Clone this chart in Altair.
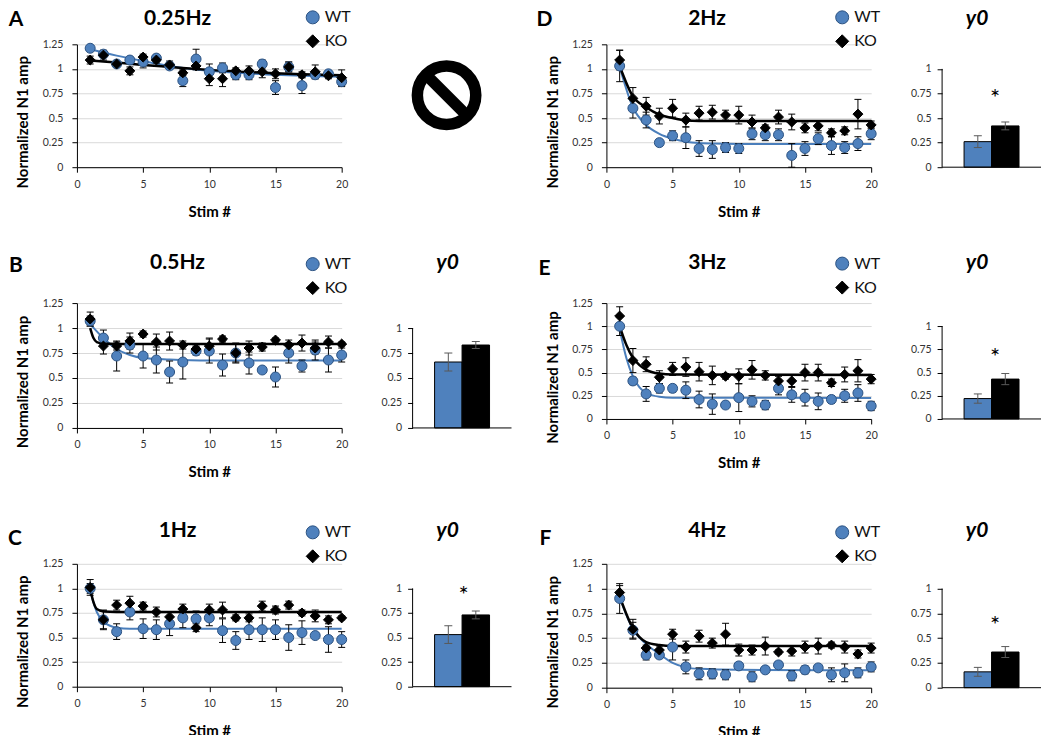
import altair as alt
import pandas as pd

STIM = list(range(1, 21))
GROUPS = ["WT", "KO"]

# ---- Panel A: 0.25Hz ----
A_WT = [1.21, 1.15, 1.05, 1.09, 1.07, 1.11, 1.03, 0.88, 1.10, 0.97, 1.01, 0.94, 0.94, 1.05, 0.81, 1.02, 0.83, 0.94, 0.95, 0.87]
A_WT_ERR = [0.02, 0.03, 0.02, 0.03, 0.06, 0.03, 0.03, 0.06, 0.10, 0.08, 0.05, 0.05, 0.05, 0.04, 0.07, 0.05, 0.08, 0.04, 0.03, 0.05]
A_KO = [1.09, 1.14, 1.05, 0.98, 1.12, 1.09, 1.04, 0.96, 1.03, 0.90, 0.90, 0.98, 0.98, 0.97, 0.95, 1.02, 0.94, 0.97, 0.93, 0.91]
A_KO_ERR = [0.04, 0.05, 0.03, 0.04, 0.03, 0.03, 0.04, 0.03, 0.04, 0.07, 0.08, 0.03, 0.05, 0.06, 0.05, 0.05, 0.03, 0.07, 0.03, 0.08]
A_FIT_X = [1, 3, 5, 7, 10, 15, 20]
A_FIT_WT = [1.20, 1.135, 1.08, 1.03, 0.98, 0.94, 0.92]
A_FIT_KO = [1.085, 1.065, 1.04, 1.02, 0.99, 0.955, 0.935]

# ---- Panel B: 0.5Hz ----
B_WT = [1.07, 0.90, 0.72, 0.83, 0.72, 0.68, 0.56, 0.66, 0.77, 0.77, 0.63, 0.75, 0.65, 0.58, 0.51, 0.75, 0.62, 0.78, 0.68, 0.73]
B_WT_ERR = [0.05, 0.08, 0.15, 0.08, 0.12, 0.13, 0.11, 0.17, 0.04, 0.12, 0.11, 0.10, 0.11, 0.03, 0.10, 0.10, 0.06, 0.10, 0.12, 0.07]
B_KO = [1.09, 0.82, 0.82, 0.87, 0.94, 0.86, 0.87, 0.83, 0.79, 0.82, 0.89, 0.75, 0.80, 0.81, 0.88, 0.83, 0.85, 0.80, 0.86, 0.84]
B_KO_ERR = [0.07, 0.08, 0.04, 0.08, 0.03, 0.08, 0.09, 0.04, 0.03, 0.08, 0.03, 0.09, 0.07, 0.04, 0.02, 0.05, 0.08, 0.06, 0.06, 0.02]
B_FIT_WT_X = [1, 2, 3, 4, 5, 7, 10, 20]
B_FIT_WT = [1.04, 0.90, 0.79, 0.73, 0.70, 0.685, 0.675, 0.675]
B_FIT_KO_X = [1, 1.25, 1.5, 2, 3, 20]
B_FIT_KO = [1.00, 0.90, 0.86, 0.845, 0.84, 0.84]

# ---- Panel C: 1Hz ----
C_WT = [1.00, 0.68, 0.56, 0.76, 0.59, 0.58, 0.64, 0.70, 0.69, 0.70, 0.57, 0.47, 0.58, 0.58, 0.58, 0.50, 0.55, 0.52, 0.48, 0.48]
C_WT_ERR = [0.05, 0.09, 0.08, 0.08, 0.10, 0.10, 0.12, 0.10, 0.08, 0.08, 0.12, 0.09, 0.10, 0.12, 0.10, 0.13, 0.12, 0.02, 0.13, 0.08]
C_KO = [1.01, 0.68, 0.83, 0.85, 0.82, 0.76, 0.71, 0.79, 0.60, 0.78, 0.78, 0.70, 0.70, 0.82, 0.78, 0.83, 0.75, 0.72, 0.68, 0.70]
C_KO_ERR = [0.08, 0.10, 0.05, 0.07, 0.04, 0.05, 0.05, 0.05, 0.04, 0.06, 0.08, 0.03, 0.04, 0.05, 0.04, 0.04, 0.03, 0.06, 0.04, 0.02]
C_FIT_WT_X = [1, 1.5, 2, 2.5, 3, 4, 20]
C_FIT_WT = [0.97, 0.76, 0.66, 0.62, 0.60, 0.59, 0.59]
C_FIT_KO_X = [1, 1.25, 1.5, 2, 3, 20]
C_FIT_KO = [1.00, 0.86, 0.79, 0.765, 0.76, 0.76]

# ---- Panel D: 2Hz ----
D_WT = [1.03, 0.60, 0.48, 0.25, 0.32, 0.30, 0.19, 0.18, 0.20, 0.19, 0.34, 0.33, 0.33, 0.12, 0.19, 0.29, 0.22, 0.20, 0.24, 0.34]
D_WT_ERR = [0.16, 0.10, 0.08, 0.03, 0.05, 0.11, 0.08, 0.09, 0.05, 0.05, 0.06, 0.06, 0.06, 0.12, 0.07, 0.06, 0.09, 0.06, 0.07, 0.06]
D_KO = [1.09, 0.70, 0.62, 0.52, 0.60, 0.48, 0.55, 0.56, 0.53, 0.53, 0.46, 0.40, 0.51, 0.46, 0.40, 0.42, 0.35, 0.37, 0.54, 0.43]
D_KO_ERR = [0.10, 0.11, 0.09, 0.08, 0.09, 0.07, 0.07, 0.07, 0.05, 0.09, 0.07, 0.03, 0.07, 0.08, 0.05, 0.05, 0.04, 0.04, 0.15, 0.04]
D_FIT_X = [1, 2, 3, 4, 5, 6, 7, 8, 10, 20]
D_FIT_WT = [1.02, 0.61, 0.43, 0.34, 0.29, 0.26, 0.245, 0.24, 0.237, 0.235]
D_FIT_KO = [1.03, 0.72, 0.61, 0.535, 0.50, 0.475, 0.47, 0.47, 0.47, 0.47]

# ---- Panel E: 3Hz ----
E_WT = [1.00, 0.41, 0.27, 0.33, 0.33, 0.31, 0.21, 0.16, 0.15, 0.23, 0.19, 0.15, 0.33, 0.26, 0.23, 0.19, 0.21, 0.25, 0.28, 0.14]
E_WT_ERR = [0.10, 0.04, 0.08, 0.05, 0.04, 0.09, 0.09, 0.11, 0.03, 0.15, 0.06, 0.05, 0.07, 0.08, 0.09, 0.09, 0.04, 0.07, 0.09, 0.05]
E_KO = [1.11, 0.63, 0.59, 0.45, 0.54, 0.56, 0.51, 0.47, 0.46, 0.46, 0.53, 0.47, 0.41, 0.41, 0.50, 0.50, 0.39, 0.48, 0.52, 0.43]
E_KO_ERR = [0.10, 0.13, 0.08, 0.07, 0.07, 0.10, 0.10, 0.10, 0.03, 0.08, 0.10, 0.05, 0.05, 0.06, 0.09, 0.09, 0.04, 0.08, 0.12, 0.05]
E_FIT_X = [1, 1.5, 2, 2.5, 3, 4, 5, 20]
E_FIT_WT = [0.97, 0.66, 0.46, 0.34, 0.28, 0.24, 0.23, 0.225]
E_FIT_KO = [1.00, 0.80, 0.66, 0.58, 0.53, 0.49, 0.48, 0.475]

# ---- Panel F: 4Hz ----
F_WT = [0.90, 0.58, 0.33, 0.33, 0.41, 0.21, 0.14, 0.14, 0.13, 0.22, 0.11, 0.18, 0.23, 0.12, 0.18, 0.20, 0.13, 0.15, 0.15, 0.21]
F_WT_ERR = [0.15, 0.08, 0.05, 0.03, 0.13, 0.07, 0.06, 0.05, 0.05, 0.03, 0.05, 0.02, 0.03, 0.05, 0.04, 0.02, 0.07, 0.09, 0.05, 0.05]
F_KO = [0.96, 0.59, 0.40, 0.38, 0.54, 0.41, 0.52, 0.45, 0.54, 0.38, 0.38, 0.42, 0.36, 0.37, 0.41, 0.42, 0.43, 0.41, 0.34, 0.40]
F_KO_ERR = [0.07, 0.10, 0.03, 0.04, 0.05, 0.06, 0.06, 0.05, 0.11, 0.06, 0.05, 0.09, 0.02, 0.05, 0.06, 0.08, 0.03, 0.06, 0.04, 0.05]
F_FIT_WT_X = [1, 2, 3, 4, 5, 6, 7, 10, 20]
F_FIT_WT = [0.91, 0.59, 0.44, 0.34, 0.25, 0.205, 0.19, 0.18, 0.175]
F_FIT_KO_X = [1, 2, 3, 4, 5, 20]
F_FIT_KO = [0.92, 0.60, 0.46, 0.43, 0.42, 0.42]

# ---- y0 bar values (panels B..F) ----
Y0_WT = [0.66, 0.53, 0.26, 0.22, 0.16]
Y0_WT_ERR = [0.09, 0.09, 0.06, 0.05, 0.045]
Y0_KO = [0.83, 0.73, 0.42, 0.43, 0.36]
Y0_KO_ERR = [0.035, 0.04, 0.04, 0.06, 0.055]

SC_Y_TICKS = [0, 0.25, 0.5, 0.75, 1, 1.25]
BAR_Y_TICKS = [0, 0.25, 0.5, 0.75, 1]
X_TICKS = [0, 5, 10, 15, 20]

BLUE = "#4F81BD"
BLUE_EDGE = "#2C5282"
LINE_BLUE = "#4A7EBB"
FONT = "Lato"
SC_W = 265
BAR_W = 99
NUM_FMT = ".3~g"


def txt(s, x, y, size, weight="bold", style="normal"):
    return alt.Chart(pd.DataFrame({"t": [s]})).mark_text(
        font=FONT, fontSize=size, fontWeight=weight, fontStyle=style,
        align="center", baseline="middle", color="black"
    ).encode(text="t:N", x=alt.value(x), y=alt.value(y))


def scatter_panel(wt, wt_err, ko, ko_err, fwx, fwt, fkx, fko, title, letter, h,
                  title_y, letter_xy, legend_top):
    rows = []
    for g, vals, errs in (("WT", wt, wt_err), ("KO", ko, ko_err)):
        for s, v, e in zip(STIM, vals, errs):
            rows.append({"stim": s, "val": v, "lo": v - e, "hi": v + e, "group": g})
    df = pd.DataFrame(rows)
    fw = pd.DataFrame({"x": fwx, "y": fwt})
    fk = pd.DataFrame({"x": fkx, "y": fko})
    xs = alt.Scale(domain=[0, 20], nice=False, zero=False)
    ys = alt.Scale(domain=[0, 1.25], nice=False)
    xax = alt.Axis(values=X_TICKS, tickCount=10, format="d", title="Stim #", grid=False,
                   tickSize=5, labelPadding=7, labelFlush=False, labelOverlap=False,
                   titleY=44, titleBaseline="middle")
    yax = alt.Axis(values=SC_Y_TICKS, tickCount=12, format=NUM_FMT,
                   title="Normalized N1 amp", grid=True, gridColor="#D9D9D9",
                   tickSize=5, labelPadding=9, labelOverlap=False,
                   titleX=-54, titleY=h / 2 + 16, titleBaseline="middle")
    fit_w = alt.Chart(fw).mark_line(color=LINE_BLUE, strokeWidth=2, interpolate="monotone").encode(
        x=alt.X("x:Q", scale=xs, axis=xax), y=alt.Y("y:Q", scale=ys, axis=yax))
    fit_k = alt.Chart(fk).mark_line(color="black", strokeWidth=2.5, interpolate="monotone").encode(
        x=alt.X("x:Q", scale=xs), y=alt.Y("y:Q", scale=ys))
    base = alt.Chart(df)
    rule = base.mark_rule(color="black", strokeWidth=1).encode(
        x=alt.X("stim:Q", scale=xs), y=alt.Y("lo:Q", scale=ys), y2="hi:Q")
    cap_lo = base.mark_tick(orient="horizontal", color="black", size=7, thickness=1, opacity=1).encode(
        x=alt.X("stim:Q", scale=xs), y=alt.Y("lo:Q", scale=ys))
    cap_hi = base.mark_tick(orient="horizontal", color="black", size=7, thickness=1, opacity=1).encode(
        x=alt.X("stim:Q", scale=xs), y=alt.Y("hi:Q", scale=ys))
    leg = alt.Legend(orient="none", legendX=228, legendY=legend_top, title=None,
                     direction="vertical", labelFont=FONT, labelFontSize=16,
                     labelColor="#111111", symbolSize=170, rowPadding=6,
                     labelOffset=4, symbolStrokeWidth=1)
    pts = base.mark_point(filled=True, size=100, strokeWidth=1, opacity=1).encode(
        x=alt.X("stim:Q", scale=xs), y=alt.Y("val:Q", scale=ys),
        color=alt.Color("group:N", scale=alt.Scale(domain=GROUPS, range=[BLUE, "black"]), legend=leg),
        shape=alt.Shape("group:N", scale=alt.Scale(domain=GROUPS, range=["circle", "diamond"]), legend=leg),
        stroke=alt.Stroke("group:N", scale=alt.Scale(domain=GROUPS, range=[BLUE_EDGE, "black"]), legend=leg),
    )
    t = txt(title, SC_W * 0.38, title_y, 21)
    l = txt(letter, letter_xy[0], letter_xy[1], 21)
    return alt.layer(fit_w, fit_k, rule, cap_lo, cap_hi, pts, t, l).properties(width=SC_W, height=h)


def bar_panel(i, h, label_y, star_xy, view_w):
    wt, we, ko, ke = Y0_WT[i], Y0_WT_ERR[i], Y0_KO[i], Y0_KO_ERR[i]
    df = pd.DataFrame({"group": GROUPS, "val": [wt, ko], "lo": [wt - we, ko - ke], "hi": [wt + we, ko + ke]})
    xs = alt.Scale(domain=GROUPS, range=[0, BAR_W], paddingInner=0, paddingOuter=0.8)
    ys = alt.Scale(domain=[0, 1.25], nice=False)
    bars = alt.Chart(df).mark_bar(stroke="black", strokeWidth=1).encode(
        x=alt.X("group:N", scale=xs, axis=None),
        y=alt.Y("val:Q", scale=ys, axis=alt.Axis(values=BAR_Y_TICKS, tickCount=12, format=NUM_FMT,
                                                  title=None, grid=False, domain=False,
                                                  tickSize=5, labelPadding=6, labelOverlap=False)),
        color=alt.Color("group:N", scale=alt.Scale(domain=GROUPS, range=[BLUE, "black"]), legend=None),
    )
    one = pd.DataFrame({"a": [0]})
    y_line = alt.Chart(one).mark_rule(color="black", strokeWidth=1).encode(
        x=alt.value(0), y=alt.datum(0), y2=alt.datum(1))
    x_line = alt.Chart(one).mark_rule(color="black", strokeWidth=1).encode(
        x=alt.value(0), x2=alt.value(BAR_W), y=alt.datum(0))
    rule = alt.Chart(df).mark_rule(color="#595959", strokeWidth=1).encode(
        x=alt.X("group:N", scale=xs), y=alt.Y("lo:Q", scale=ys), y2="hi:Q")
    c1 = alt.Chart(df).mark_tick(orient="horizontal", color="#595959", size=8, thickness=1, opacity=1).encode(
        x=alt.X("group:N", scale=xs), y=alt.Y("lo:Q", scale=ys))
    c2 = alt.Chart(df).mark_tick(orient="horizontal", color="#595959", size=8, thickness=1, opacity=1).encode(
        x=alt.X("group:N", scale=xs), y=alt.Y("hi:Q", scale=ys))
    layers = [bars, y_line, x_line, rule, c1, c2, txt("y0", 35, label_y, 21, "bold", "italic")]
    if star_xy is not None:
        layers.append(txt("*", star_xy[0], star_xy[1] + 5, 24, "normal"))
    return alt.layer(*layers).properties(width=view_w, height=h)


def no_panel(h, view_w):
    d = pd.DataFrame({"a": [0]})
    cx, cy = 34, 51
    ring = alt.Chart(d).mark_point(shape="circle", filled=False, size=3420, strokeWidth=11.5,
                                   color="black", opacity=1).encode(x=alt.value(cx), y=alt.value(cy))
    bar = alt.Chart(d).mark_rule(color="black", strokeWidth=11.5).encode(
        x=alt.value(cx - 20), y=alt.value(cy - 20), x2=alt.value(cx + 20), y2=alt.value(cy + 20))
    return alt.layer(ring, bar).properties(width=view_w, height=h)


# row tops (page px): row0 ~43, row1 ~302, row2 ~563
sA = scatter_panel(A_WT, A_WT_ERR, A_KO, A_KO_ERR, A_FIT_X, A_FIT_WT, A_FIT_X, A_FIT_KO,
                   "0.25Hz", "A", 123, -25, (-61, -24), -35)
sB = scatter_panel(B_WT, B_WT_ERR, B_KO, B_KO_ERR, B_FIT_WT_X, B_FIT_WT, B_FIT_KO_X, B_FIT_KO,
                   "0.5Hz", "B", 125, -40, (-61, -37), -47)
sC = scatter_panel(C_WT, C_WT_ERR, C_KO, C_KO_ERR, C_FIT_WT_X, C_FIT_WT, C_FIT_KO_X, C_FIT_KO,
                   "1Hz", "C", 123, -33, (-62, -25), -39.5)
sD = scatter_panel(D_WT, D_WT_ERR, D_KO, D_KO_ERR, D_FIT_X, D_FIT_WT, D_FIT_X, D_FIT_KO,
                   "2Hz", "D", 123, -25, (-62, -24), -35)
sE = scatter_panel(E_WT, E_WT_ERR, E_KO, E_KO_ERR, E_FIT_X, E_FIT_WT, E_FIT_X, E_FIT_KO,
                   "3Hz", "E", 116, -40, (-62, -34.5), -47.5)
sF = scatter_panel(F_WT, F_WT_ERR, F_KO, F_KO_ERR, F_FIT_WT_X, F_FIT_WT, F_FIT_KO_X, F_FIT_KO,
                   "4Hz", "F", 124, -33, (-61, -25), -39.5)

COL1_W = 123
bB = bar_panel(0, 125, -40, None, COL1_W)
bC = bar_panel(1, 123, -33, (51, 27), COL1_W)
bD = bar_panel(2, 123, -25, (53, 50), BAR_W)
bE = bar_panel(3, 116, -40, (53, 50), BAR_W)
bF = bar_panel(4, 124, -33, (53, 57), BAR_W)
nA = no_panel(123, COL1_W)

chart = alt.concat(
    sA, nA, sD, bD,
    sB, bB, sE, bE,
    sC, bC, sF, bF,
    columns=4, spacing={"row": 136, "column": 71}, bounds="flush"
).resolve_scale(
    color="independent", shape="independent", stroke="independent"
).properties(
    padding=0, background="white"
).configure_view(stroke=None).configure_axis(
    labelFont=FONT, labelFontSize=10.5, labelColor="#333333",
    titleFont=FONT, titleFontSize=15, titleFontWeight="bold", titleColor="black",
    domainColor="black", tickColor="black", domainWidth=1
)

chart.save("out.html", embed_options={"renderer": "svg", "actions": False})
